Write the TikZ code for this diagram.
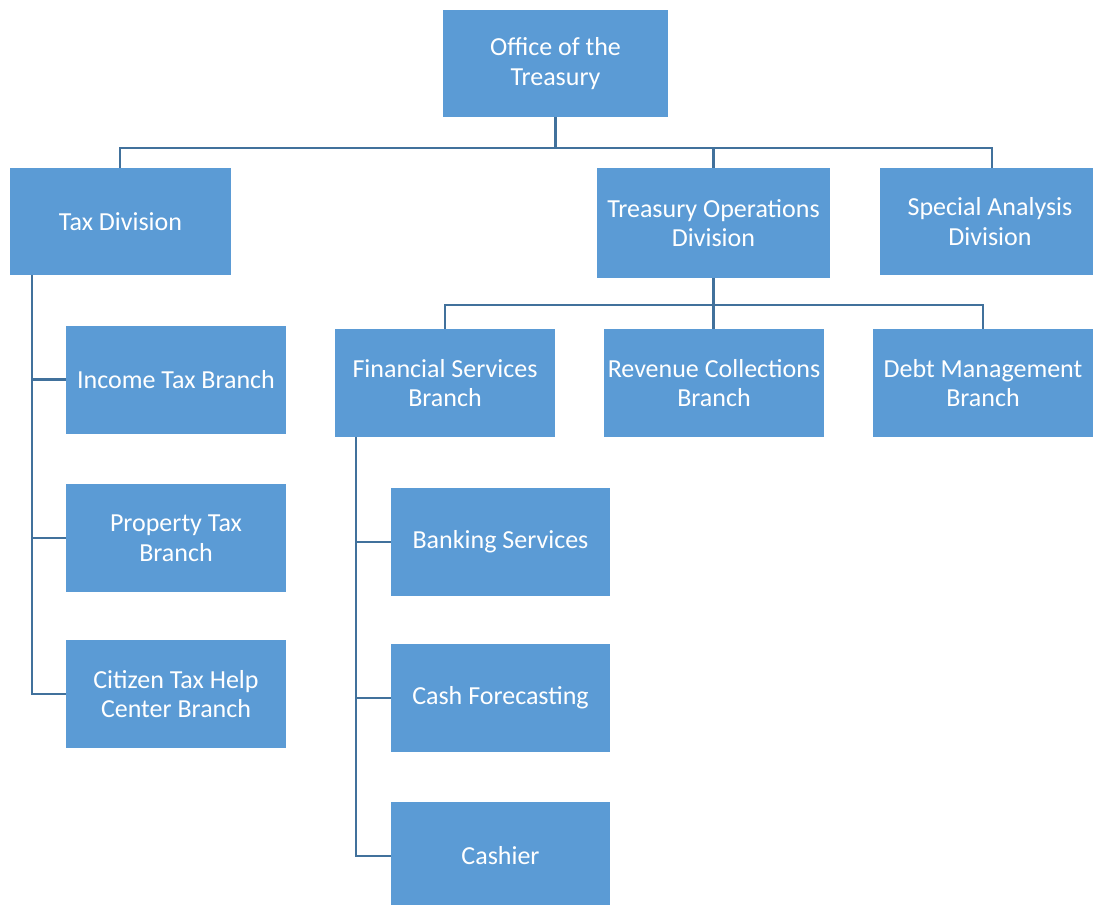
\documentclass[tikz,border=0pt]{standalone}
\usepackage{fontspec}
\setmainfont{Carlito}
\definecolor{boxfill}{HTML}{5B9BD5}
\definecolor{linecol}{HTML}{41719C}
\begin{document}
\begin{tikzpicture}[x=1pt,y=-1pt,
  box/.style={rectangle, fill=boxfill, draw=none, text=white, align=center,
    minimum width=220pt, minimum height=108pt, inner sep=0pt,
    font=\fontsize{26}{29.5}\selectfont},
  conn/.style={draw=linecol, line width=2.8pt}]
\useasboundingbox (0,0) rectangle (1093,905);
\node[box, minimum width=225pt, minimum height=107pt] (office) at (555.5,63.5) {Office of the\\Treasury};
\node[box, minimum width=221pt, minimum height=107pt] (tax) at (120.5,221.5) {Tax Division};
\node[box, minimum width=233pt, minimum height=110pt] (tops) at (713.5,223) {Treasury Operations\\Division};
\node[box, minimum width=220pt, minimum height=107pt] (spec) at (990,221.5) {Special Analysis\\Division};
\node[box] (income) at (176,379.5) {Income Tax Branch};
\node[box] (prop) at (176,538) {Property Tax\\Branch};
\node[box] (citizen) at (176,694) {Citizen Tax Help\\Center Branch};
\node[box] (fin) at (445,383) {Financial Services\\Branch};
\node[box] (rev) at (714,383) {Revenue Collections\\Branch};
\node[box] (debt) at (983,383) {Debt Management\\Branch};
\node[box, minimum width=219pt] (bank) at (500.5,542) {Banking Services};
\node[box, minimum width=219pt] (cashf) at (500.5,698) {Cash Forecasting};
\node[box, minimum width=219pt] (cashier) at (500.5,856) {Cashier};
% level 1
\coordinate (bus1) at (555.5,148);
\draw[conn] (office.south) -- (bus1);
\draw[conn] (tax.north -| 120,0) |- (bus1);
\draw[conn] (spec.north -| 992,0) |- (bus1);
\draw[conn] (tops.north) -- (tops.north |- bus1);
% tax division
\coordinate (tv) at (32,275);
\draw[conn] (tv) |- (citizen.west);
\draw[conn] (tv |- income.west) -- (income.west);
\draw[conn] (tv |- prop.west) -- (prop.west);
% treasury ops
\coordinate (bus2) at (713.5,305);
\draw[conn] (tops.south) -- (bus2);
\draw[conn] (fin.north) |- (bus2);
\draw[conn] (debt.north) |- (bus2);
\draw[conn] (rev.north -| 713.5,0) -- (bus2);
% financial services
\coordinate (fv) at (356,437);
\draw[conn] (fv) |- (cashier.west);
\draw[conn] (fv |- bank.west) -- (bank.west);
\draw[conn] (fv |- cashf.west) -- (cashf.west);
\end{tikzpicture}
\end{document}
